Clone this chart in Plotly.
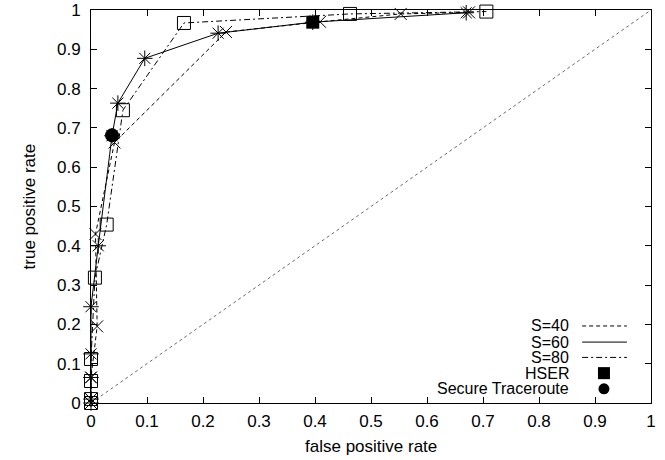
import plotly.graph_objects as go

# ---- data ----
s40_fpr = [0, 0, 0, 0.011, 0.008, 0.042, 0.241, 0.409, 0.553, 0.675]
s40_tpr = [0, 0.01, 0.065, 0.195, 0.43, 0.663, 0.944, 0.97, 0.99, 0.994]

s60_fpr = [0, 0, 0, 0, 0, 0.013, 0.0375, 0.048, 0.096, 0.227, 0.396, 0.67]
s60_tpr = [0, 0.01, 0.065, 0.125, 0.245, 0.40, 0.68, 0.763, 0.877, 0.941, 0.969, 0.993]

s80_fpr = [0, 0, 0, 0, 0.007, 0.028, 0.057, 0.166, 0.4625, 0.706]
s80_tpr = [0, 0.01, 0.056, 0.112, 0.319, 0.454, 0.745, 0.967, 0.99, 0.996]

hser_fpr = [0.396]
hser_tpr = [0.969]

st_fpr = [0.0375]
st_tpr = [0.681]

diag = [0, 1]

tick_vals = [0, 0.1, 0.2, 0.3, 0.4, 0.5, 0.6, 0.7, 0.8, 0.9, 1]
tick_text = ["0", "0.1", "0.2", "0.3", "0.4", "0.5", "0.6", "0.7", "0.8", "0.9", "1"]

legend_names = ["S=40", "S=60", "S=80", "HSER", "Secure Traceroute"]
x_title = "false positive rate"
y_title = "true positive rate"

FONT = "Liberation Sans, Arial, Helvetica, sans-serif"
FS = 17

fig = go.Figure()

fig.add_trace(go.Scatter(x=diag, y=diag, mode="lines",
                         line=dict(color="#444", width=0.8, dash="dot"),
                         showlegend=False, hoverinfo="skip"))

fig.add_trace(go.Scatter(x=s40_fpr, y=s40_tpr, mode="lines+markers", name=legend_names[0],
                         line=dict(color="black", width=1, dash="4px,3px"),
                         marker=dict(symbol="x-thin-open", size=12,
                                     line=dict(color="black", width=1)),
                         cliponaxis=False, showlegend=False))

fig.add_trace(go.Scatter(x=s60_fpr, y=s60_tpr, mode="lines+markers", name=legend_names[1],
                         line=dict(color="black", width=1),
                         marker=dict(symbol="asterisk-open", size=13,
                                     line=dict(color="black", width=1)),
                         cliponaxis=False, showlegend=False))

fig.add_trace(go.Scatter(x=s80_fpr, y=s80_tpr, mode="lines+markers", name=legend_names[2],
                         line=dict(color="black", width=1, dash="6px,3px,2px,3px"),
                         marker=dict(symbol="square-open", size=13,
                                     line=dict(color="black", width=1)),
                         cliponaxis=False, showlegend=False))

fig.add_trace(go.Scatter(x=hser_fpr, y=hser_tpr, mode="markers", name=legend_names[3],
                         marker=dict(symbol="square", size=13, color="black"),
                         cliponaxis=False, showlegend=False))

fig.add_trace(go.Scatter(x=st_fpr, y=st_tpr, mode="markers", name=legend_names[4],
                         marker=dict(symbol="circle", size=14, color="black"),
                         cliponaxis=False, showlegend=False))

# ---- gnuplot-style key (text left, sample right) ----
row_y = [0.196, 0.155, 0.116, 0.076, 0.036]
dashes = ["4px,3px", "solid", "6px,3px,2px,3px"]
for i, name in enumerate(legend_names):
    fig.add_annotation(xref="paper", yref="paper", x=0.855, y=row_y[i], text=name,
                       showarrow=False, xanchor="right", yanchor="middle", borderpad=0,
                       font=dict(family=FONT, size=FS - 1, color="black"))
for i in range(3):
    fig.add_shape(type="line", xref="paper", yref="paper",
                  x0=0.877, x1=0.957, y0=row_y[i], y1=row_y[i],
                  line=dict(color="black", width=1, dash=dashes[i]))
fig.add_shape(type="rect", xref="paper", yref="paper",
              x0=0.916 - 0.0107, x1=0.916 + 0.0107,
              y0=row_y[3] - 0.0153, y1=row_y[3] + 0.0153,
              fillcolor="black", line=dict(width=0))
fig.add_shape(type="circle", xref="paper", yref="paper",
              x0=0.916 - 0.0098, x1=0.916 + 0.0098,
              y0=row_y[4] - 0.014, y1=row_y[4] + 0.014,
              fillcolor="black", line=dict(width=0))

# axis titles
fig.add_annotation(xref="paper", yref="paper", x=0.5, y=-0.11, text=x_title,
                   showarrow=False, xanchor="center", yanchor="middle",
                   font=dict(family=FONT, size=FS, color="black"))
fig.add_annotation(xref="paper", yref="paper", x=-0.109, y=0.5, text=y_title,
                   showarrow=False, xanchor="center", yanchor="middle", textangle=-90,
                   font=dict(family=FONT, size=FS, color="black"))

axis_common = dict(range=[0, 1], tickvals=tick_vals, ticktext=tick_text,
                   ticks="inside", ticklen=6, tickwidth=1, tickcolor="black",
                   showline=True, linecolor="black", linewidth=1, mirror="ticks",
                   showgrid=False, zeroline=False, automargin=False,
                   tickfont=dict(family=FONT, size=FS, color="black"))

fig.update_xaxes(**axis_common, ticklabelstandoff=3)
fig.update_yaxes(**axis_common, ticklabelstandoff=6)

fig.update_layout(width=665, height=460,
                  margin=dict(l=91, r=14, t=10, b=57, autoexpand=False),
                  paper_bgcolor="white", plot_bgcolor="white",
                  font=dict(family=FONT, size=FS, color="black"),
                  showlegend=False)

fig.write_html("out.html", config={"displayModeBar": False},
               post_script="document.body.style.margin='0';document.body.style.padding='0';")
